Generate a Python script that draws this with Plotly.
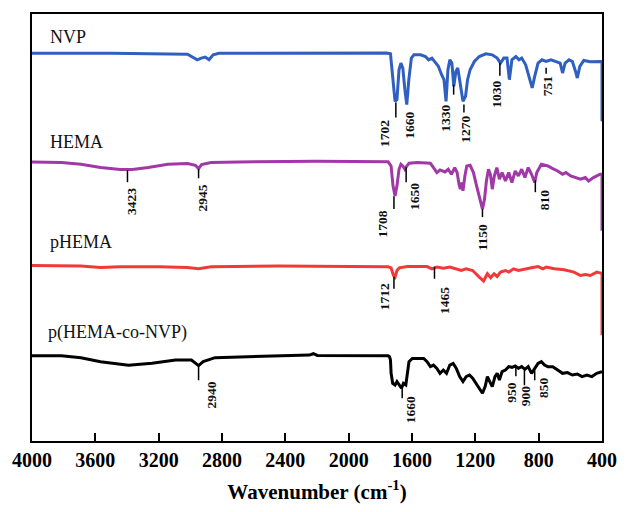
import plotly.graph_objects as go

# ---------------- data (wavenumber cm^-1, transmittance a.u. with vertical offsets) ----------------
nvp_wn = [4000, 3500, 3018, 2981, 2956, 2931, 2906, 2882, 2856, 2819, 2200, 1760, 1736, 1722, 1707, 1695,
          1682, 1670, 1658, 1645, 1633, 1620, 1604, 1588, 1546, 1515, 1495, 1474, 1453, 1433, 1413, 1398,
          1385, 1373, 1361, 1348, 1336, 1323, 1311, 1295, 1278, 1262, 1249, 1233, 1206, 1175, 1134, 1093,
          1062, 1041, 1020, 1000, 985, 969, 944, 924, 907, 882, 862, 841, 825, 804, 779, 753, 722, 691,
          664, 649, 633, 608, 587, 567, 556, 540, 515, 474, 412, 400, 400]
nvp_t = [389.5, 389.5, 388.5, 384.7, 383, 384.7, 385.7, 383, 388, 389.5, 390, 389.7, 389, 366.3, 341.3, 343,
         373, 379.7, 374.7, 353, 338, 363, 384.7, 388, 388, 386.3, 383, 384.7, 380.3, 376.3, 368, 363,
         341.3, 373, 383, 379.7, 356.3, 371.3, 374.7, 359.7, 341.3, 346.3, 363, 373, 381.3, 386.3, 389, 388,
         384.7, 379.7, 384.7, 384.7, 363, 383, 386.3, 383, 384.7, 378, 366.3, 354.7, 366.3, 379.7, 383, 381.3, 383, 381.3,
         379.7, 369.7, 379.7, 383, 381.3, 371.3, 364.7, 376.3, 382.3, 381, 381.3, 381.3, 321.3]

hema_wn = [4000, 3814, 3691, 3567, 3443, 3366, 3266, 3142, 3018, 2968, 2948, 2929, 2869, 2695, 2198, 1751,
           1732, 1720, 1707, 1695, 1682, 1670, 1658, 1645, 1633, 1619, 1567, 1484, 1464, 1443, 1423, 1392,
           1371, 1351, 1330, 1315, 1303, 1295, 1286, 1278, 1266, 1254, 1233, 1212, 1192, 1171, 1155, 1142,
           1130, 1117, 1105, 1093, 1080, 1064, 1048, 1031, 1010, 989, 969, 948, 928, 907, 887, 866, 845,
           825, 812, 783, 742, 711, 680, 649, 628, 598, 567, 536, 505, 485, 454, 412, 400, 400]
hema_t = [280.3, 279.7, 278, 274.7, 272.7, 272.7, 274.7, 278, 278.7, 277, 273.7, 277.7, 279.7, 280.3, 281, 280.5,
          276.3, 256.3, 246.3, 256.3, 273, 278, 276.3, 273, 276.3, 279, 279.7, 279, 274.7, 269.7, 272.3, 270.3,
          273, 268, 274.7, 269.7, 258, 253, 259.7, 251.3, 266.3, 276.3, 277, 269.7, 256.3, 243, 233, 243,
          261.3, 273, 268, 253, 266.3, 274.7, 263, 269.7, 261.3, 269.7, 259.7, 271.3, 266.3, 273, 264.7, 274.7, 268,
          259.7, 269.7, 278, 276.3, 273.7, 271.3, 268, 269.7, 266.3, 264.7, 263, 264.7, 261.3, 264.7, 268, 268, 211.3]

phema_wn = [4000, 3691, 3567, 3443, 3200, 3018, 2948, 2869, 2447, 2000, 1751, 1732, 1717, 1707, 1695, 1680,
            1629, 1505, 1474, 1443, 1402, 1361, 1320, 1289, 1258, 1217, 1175, 1148, 1124, 1103, 1082, 1062,
            1041, 1010, 989, 958, 928, 887, 845, 804, 773, 753, 701, 639, 577, 536, 505, 474, 433, 408, 400, 400]
phema_t = [176.3, 175.7, 174.3, 175, 175, 174.3, 173, 175, 175.7, 175.7, 175, 174, 166.3, 164.7, 171.3, 174,
           175.3, 175.3, 173, 174.7, 173.7, 174.7, 173, 171.3, 173, 171.3, 164.7, 160.7, 168, 164, 168, 165.3,
           169.7, 171.3, 169.7, 173, 171.3, 173, 174, 175.3, 173, 174.7, 173, 172, 169.7, 166.3, 167.3, 166.3, 169.7, 168.7, 168.7, 106.3]

copo_wn = [4000, 3814, 3691, 3567, 3391, 3242, 3093, 2993, 2948, 2919, 2844, 2571, 2248, 2223, 2198, 1751,
           1742, 1736, 1732, 1722, 1707, 1695, 1680, 1666, 1654, 1639, 1629, 1619, 1598, 1567, 1526, 1505,
           1484, 1464, 1443, 1423, 1402, 1382, 1361, 1340, 1320, 1299, 1278, 1258, 1237, 1217, 1196, 1175,
           1155, 1138, 1124, 1109, 1093, 1076, 1062, 1048, 1031, 1010, 989, 969, 948, 928, 907, 887, 866,
           845, 825, 804, 783, 763, 742, 711, 680, 649, 618, 587, 556, 526, 495, 464, 433, 408, 400]
copo_t = [85.7, 85.7, 83.7, 79.7, 76, 78, 81.3, 81.3, 75.7, 79.7, 83.7, 85, 86.3, 87.7, 86, 85.7,
          84.7, 81.3, 68, 58, 56.3, 59.7, 56.3, 53, 58, 56.3, 68, 79.7, 83, 83, 83, 79.7,
          74.7, 76.3, 73, 68, 71.3, 68, 76.3, 78, 73, 64.7, 59.7, 64.7, 66.3, 63, 58, 53,
          48, 54.7, 64.7, 59.7, 54.7, 64.7, 68, 61.3, 69.7, 71.3, 74.7, 74, 75.3, 73, 74.7, 72, 74.7,
          68, 73, 78, 79.7, 76.3, 74.7, 74.7, 71.3, 68, 68.7, 66.3, 67.3, 64.7, 66.3, 64.7, 68, 69.7, 69.7]

series_names = ["NVP", "HEMA", "pHEMA", "p(HEMA-co-NVP)"]
series_colors = ["#2f5fc0", "#a038a8", "#f03a3a", "#000000"]
name_pos = [(3900, 405.5), (3900, 300.5), (3900, 200), (3910, 109)]

# peak labels: text, label wn, label y, tick wn, tick top, tick bottom (None = no tick)
peak_text = ["1702", "1660", "1330", "1270", "1030", "751",
             "3423", "2945", "1708", "1650", "1150", "810",
             "1712", "1465",
             "2940", "1660", "950", "900", "850"]
peak_lab_wn = [1773, 1617, 1390, 1264, 1068, 743,
               3375, 2924, 1792, 1588, 1155, 765,
               1773, 1396,
               2868, 1612, 972, 886, 774]
peak_lab_t = [309, 317, 324, 313, 348, 357,
              241, 244, 218, 246, 205, 242,
              145, 141,
              46, 31, 49, 45, 54]
tick_wn = [1702, None, None, 1272, 1045, 753,
           3397, 2948, 1714, 1637, 1155, 821,
           1714, 1458,
           2948, 1662, 944, 890, 825]
tick_top = [340, None, None, 338, 380, 375,
            272, 273, 246, 275, 233, 262,
            165, 175,
            76, 53, 74, 71, 71]
tick_bot = [325, None, None, 330, 367, 369,
            260, 264, 233, 260, 225, 250,
            153, 163,
            61, 43, 65, 56, 61]
extra_tick_wn = [1337]
extra_tick_top = [358]
extra_tick_bot = [348]

x_ticks = [4000, 3600, 3200, 2800, 2400, 2000, 1600, 1200, 800, 400]

# ---------------- figure ----------------
fig = go.Figure()
for wn, t, nm, col in zip([nvp_wn, hema_wn, phema_wn, copo_wn],
                          [nvp_t, hema_t, phema_t, copo_t],
                          series_names, series_colors):
    fig.add_trace(go.Scatter(x=wn, y=t, mode="lines", name=nm,
                             line=dict(color=col, width=3), showlegend=False))

serif = "Liberation Serif, Times New Roman, serif"
for nm, (px, py) in zip(series_names, name_pos):
    fig.add_annotation(x=px, y=py, text=nm, showarrow=False, xanchor="left", yanchor="middle",
                       font=dict(family=serif, size=18, color="#111"))

for txt, lx, ly in zip(peak_text, peak_lab_wn, peak_lab_t):
    fig.add_annotation(x=lx, y=ly, text="<b>%s</b>" % txt, showarrow=False, textangle=-90,
                       xanchor="center", yanchor="middle",
                       font=dict(family=serif, size=13.5, color="#111"))

shapes = []
for tw, tt, tb in zip(tick_wn + extra_tick_wn, tick_top + extra_tick_top, tick_bot + extra_tick_bot):
    if tw is None:
        continue
    shapes.append(dict(type="line", xref="x", yref="y", x0=tw, x1=tw, y0=tt, y1=tb,
                       line=dict(color="black", width=1.5)))
fig.update_layout(shapes=shapes)

fig.update_layout(
    width=629, height=512,
    margin=dict(l=28, r=17, t=14, b=69),
    paper_bgcolor="white", plot_bgcolor="white",
    xaxis=dict(range=[4000, 400], tickvals=x_ticks, ticktext=[str(v) for v in x_ticks],
               ticks="inside", ticklen=8, tickwidth=1.5, tickcolor="black",
               showline=True, linecolor="black", linewidth=2, mirror=True,
               showgrid=False, zeroline=False,
               tickfont=dict(family=serif, size=20, color="black", weight="bold"),
               title=dict(text="<b>Wavenumber (cm<sup>-1</sup>)</b>", standoff=14,
                          font=dict(family=serif, size=21, color="black"))),
    yaxis=dict(range=[0, 429], showticklabels=False, ticks="", showline=True, linecolor="black",
               linewidth=2, mirror=True, showgrid=False, zeroline=False, layer="below traces"),
)

fig.write_html("out.html")
